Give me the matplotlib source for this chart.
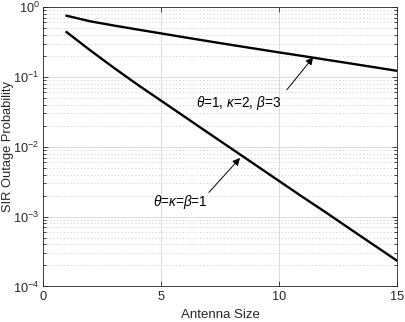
import matplotlib
matplotlib.use("Agg")
import matplotlib.pyplot as plt
from matplotlib.ticker import LogLocator, NullFormatter, FixedLocator

plt.rcParams["font.family"] = ["Liberation Sans", "DejaVu Sans"]
plt.rcParams["mathtext.fontset"] = "custom"
plt.rcParams["mathtext.rm"] = "Liberation Sans"
plt.rcParams["mathtext.it"] = "Liberation Sans:italic"
plt.rcParams["mathtext.bf"] = "Liberation Sans:bold"

# data
antenna_size = [1, 2, 3, 4, 5, 6, 7, 8, 9, 10, 11, 12, 13, 14, 15]
outage_123 = [0.750, 0.624, 0.543, 0.476, 0.419, 0.368, 0.324, 0.286,
              0.253, 0.224, 0.199, 0.176, 0.156, 0.138, 0.122]
outage_111 = [0.437, 0.240, 0.135, 0.0776, 0.0457, 0.0269, 0.0158, 0.00933,
              0.00550, 0.00324, 0.00191, 0.00114, 6.7e-4, 3.96e-4, 2.34e-4]

label_123 = r"$\theta$=1, $\kappa$=2, $\beta$=3"
label_111 = r"$\theta$=$\kappa$=$\beta$=1"

axis_color = "#262626"

fig = plt.figure(figsize=(4.06, 3.22), dpi=100)
ax = fig.add_axes([0.1059, 0.1103, 0.8719, 0.8680])

ax.semilogy(antenna_size, outage_123, color="k", lw=1.7, zorder=3)
ax.semilogy(antenna_size, outage_111, color="k", lw=1.7, zorder=3)

ax.set_xlim(0, 15)
ax.set_ylim(1e-4, 1)
ax.xaxis.set_major_locator(FixedLocator([0, 5, 10, 15]))
ax.yaxis.set_major_locator(LogLocator(base=10, numticks=10))
ax.yaxis.set_minor_locator(LogLocator(base=10, subs=range(2, 10), numticks=10))
ax.yaxis.set_minor_formatter(NullFormatter())

ax.grid(True, which="major", color="#dcdcdc", lw=0.7, ls="-")
ax.grid(True, which="minor", axis="y", color="#cccccc", lw=0.7, ls=(0, (1, 2.5)))
ax.set_axisbelow(True)

ax.tick_params(which="both", direction="in", top=True, right=True,
               colors=axis_color, labelsize=9.2, width=0.6)
ax.tick_params(which="major", length=3.5)
ax.tick_params(which="minor", length=2)
ax.tick_params(axis="y", pad=2.5)
for s in ax.spines.values():
    s.set_color(axis_color)
    s.set_linewidth(0.6)

ax.set_xlabel("Antenna Size", fontsize=9.5, color=axis_color, labelpad=4)
ax.set_ylabel("SIR Outage Probability", fontsize=9.3, color=axis_color,
              va="center")
ax.yaxis.set_label_coords(-0.099, 0.5)

arrow = dict(arrowstyle="-|>", color="k", lw=0.7, mutation_scale=11,
             shrinkA=0, shrinkB=0)
ax.annotate("", xy=(11.45, 0.191), xytext=(10.33, 0.0652), arrowprops=arrow)
ax.text(8.27, 0.0425, label_123, fontsize=9.8, ha="center", va="center")
ax.annotate("", xy=(8.35, 0.0069), xytext=(7.03, 0.00222), arrowprops=arrow)
ax.text(5.84, 0.0016, label_111, fontsize=9.8, ha="center", va="center")

fig.savefig("out.png", dpi=100)
